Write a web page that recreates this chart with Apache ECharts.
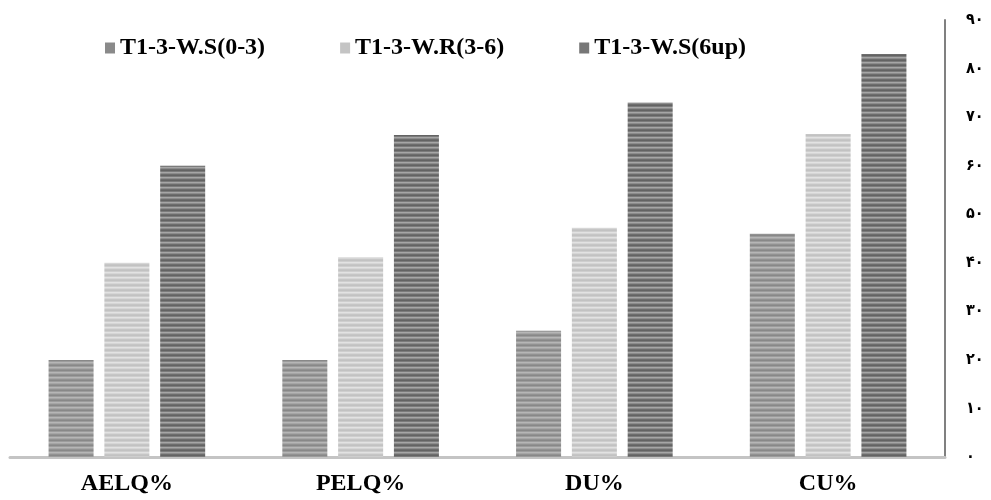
<!DOCTYPE html>
<html><head><meta charset="utf-8">
<script src="https://cdn.jsdelivr.net/npm/echarts@6/dist/echarts.min.js"></script>
<style>html,body{margin:0;padding:0;background:#fff}#c{width:991px;height:500px}</style>
</head><body><div id="c"></div>
<script>
const categories = ['AELQ%', 'PELQ%', 'DU%', 'CU%'];
const seriesNames = ['T1-3-W.S(0-3)', 'T1-3-W.R(3-6)', 'T1-3-W.S(6up)'];
const ws03 = [20, 20, 26, 46];
const wr36 = [40, 41.2, 47.2, 66.5];
const ws6up = [60, 66.3, 73, 83];
const yTicks = [0, 10, 20, 30, 40, 50, 60, 70, 80, 90];

function stripes(rows) {
  const c = document.createElement('canvas');
  c.width = 4; c.height = rows.length;
  const ctx = c.getContext('2d');
  rows.forEach((col, i) => { ctx.fillStyle = col; ctx.fillRect(0, i, 4, 1); });
  return { image: c, repeat: 'repeat' };
}
const pats = [
  stripes(['#888888', '#9c9c9c', '#b6b6b6', '#a6a6a6', '#929292']),
  stripes(['#c2c2c2', '#cecece', '#e2e2e2', '#d6d6d6', '#c6c6c6']),
  stripes(['#636363', '#7b7b7b', '#a6a6a6', '#8c8c8c', '#6d6d6d'])
];
const legendColors = ['#8a8a8a', '#c4c4c4', '#777777'];
const fa = '۰۱۲۳۴۵۶۷۸۹';
const toFa = v => String(v).replace(/\d/g, d => fa[+d]);

const dataArr = [ws03, wr36, ws6up];
const chart = echarts.init(document.getElementById('c'));
chart.setOption({
  animation: false,
  backgroundColor: '#fff',
  legend: {
    top: 31, left: 100, itemGap: 75, itemWidth: 10, itemHeight: 11, icon: 'rect',
    textStyle: { fontFamily: 'Liberation Serif', fontWeight: 'bold', fontSize: 24, color: '#000' },
    data: seriesNames.map((n, i) => ({ name: n, itemStyle: { color: legendColors[i] } }))
  },
  grid: { left: 10, right: 46, top: 20, bottom: 43 },
  xAxis: {
    type: 'category', data: categories,
    axisLine: { lineStyle: { color: '#c4c4c4', width: 3 } },
    axisTick: { show: false },
    axisLabel: { margin: 15, fontFamily: 'Liberation Serif', fontWeight: 'bold', fontSize: 24, color: '#000' }
  },
  yAxis: {
    type: 'value', position: 'right', min: 0, max: 90, interval: 10,
    axisLine: { show: true, lineStyle: { color: '#808080', width: 2 } },
    axisTick: { show: false },
    splitLine: { show: false },
    axisLabel: { margin: 21, fontFamily: 'DejaVu Sans Condensed, DejaVu Sans', fontWeight: 'bold', fontSize: 16, color: '#000',
      formatter: v => yTicks.includes(v) ? toFa(v) : '' }
  },
  series: seriesNames.map((n, i) => ({
    name: n, type: 'bar', data: dataArr[i], barWidth: 45, barGap: '24%',
    itemStyle: { color: pats[i] }
  }))
});
</script></body></html>
